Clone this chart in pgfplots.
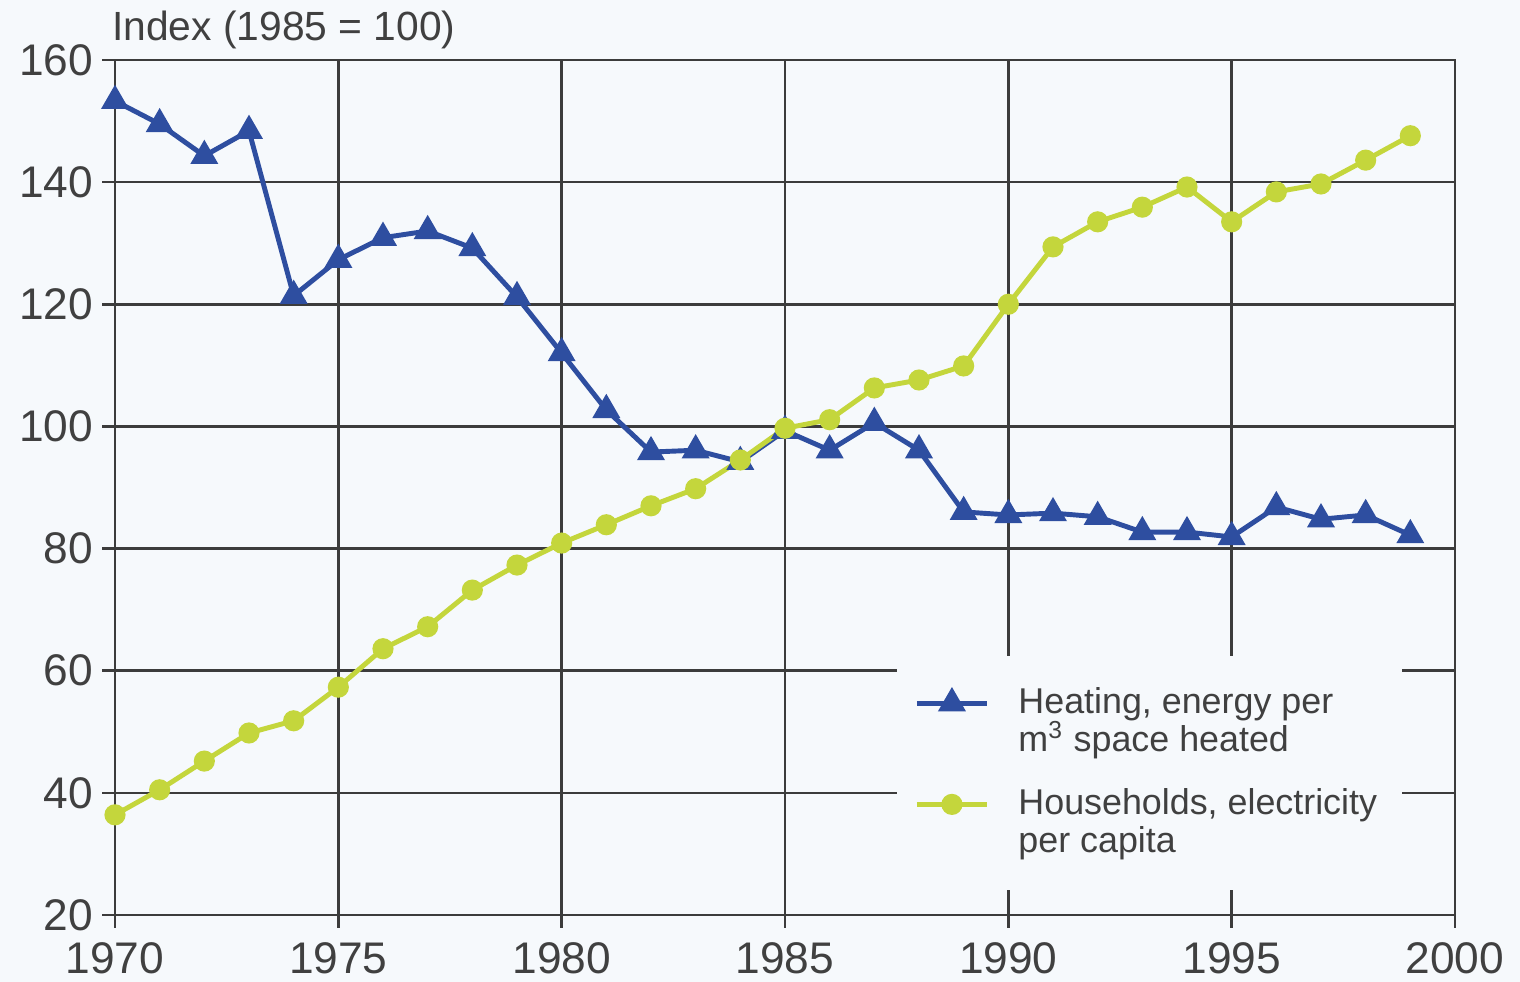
\documentclass[border=0pt]{standalone}
\usepackage{pgfplots}
\pgfplotsset{compat=1.18}
\usepackage{fontspec}
\setmainfont{Liberation Sans}
\usetikzlibrary{backgrounds}
\definecolor{heatblue}{RGB}{46,78,160}
\definecolor{elecgreen}{RGB}{196,214,60}
\definecolor{gridgray}{RGB}{60,60,60}
\definecolor{txtgray}{RGB}{64,64,64}
\definecolor{bgcol}{RGB}{246,249,252}
\begin{document}
\begin{tikzpicture}[show background rectangle,
  background rectangle/.style={fill=bgcol,draw=none}, inner frame sep=0pt]
\begin{axis}[
  name=ax,
  scale only axis,
  width=13.4cm, height=8.55cm,
  xmin=1970, xmax=2000, ymin=20, ymax=160,
  xtick={1970,1975,...,2000},
  ytick={20,40,...,160},
  grid=major,
  grid style={gridgray, line width=0.7pt},
  axis line style={gridgray, line width=0.7pt},
  tick style={gridgray, line width=0.7pt},
  tick align=outside,
  major tick length=0.13cm,
  xtick pos=bottom, ytick pos=left,
  /pgf/number format/assume math mode=true,
  /pgf/number format/1000 sep={},
  tick label style={font=\fontsize{12.6}{13}\selectfont, text=txtgray},
  yticklabel style={xshift=1pt},
  xticklabel style={yshift=-0.5pt},
  legend style={at={(0.583,0.304)}, anchor=north west, draw=none,
    fill=bgcol, font=\fontsize{10.2}{10.9}\selectfont, text=txtgray,
    cells={align=left, anchor=west}, row sep=5pt, inner xsep=5pt, inner ysep=7pt,
    /tikz/every odd column/.append style={column sep=0.22cm}},
  legend image code/.code={
    \draw[mark repeat=2,mark phase=2,yshift=5.4pt,#1] plot coordinates {(0cm,0cm)(0.35cm,0cm)(0.7cm,0cm)};},
]
\addplot[heatblue, line width=1.4pt, mark=triangle*, mark size=3.2pt] coordinates {
(1970,153.3)(1971,149.5)(1972,144.3)(1973,148.4)(1974,121.4)(1975,127.3)
(1976,130.9)(1977,132.0)(1978,129.2)(1979,121.2)(1980,112.0)(1981,102.7)
(1982,95.8)(1983,96.1)(1984,94.2)(1985,99.3)(1986,96.1)(1987,100.6)
(1988,96.1)(1989,86.0)(1990,85.5)(1991,85.8)(1992,85.2)(1993,82.7)
(1994,82.7)(1995,81.9)(1996,86.8)(1997,84.8)(1998,85.5)(1999,82.2)};
\addlegendentry{Heating, energy per\\m\textsuperscript{\scriptsize 3} space heated}
\addplot[elecgreen, line width=1.4pt, mark=*, mark size=2.3pt] coordinates {
(1970,36.4)(1971,40.5)(1972,45.2)(1973,49.8)(1974,51.8)(1975,57.3)
(1976,63.6)(1977,67.2)(1978,73.2)(1979,77.3)(1980,80.9)(1981,83.9)
(1982,87.0)(1983,89.8)(1984,94.5)(1985,99.7)(1986,101.1)(1987,106.3)
(1988,107.6)(1989,109.9)(1990,120.0)(1991,129.4)(1992,133.5)(1993,135.9)
(1994,139.2)(1995,133.5)(1996,138.4)(1997,139.7)(1998,143.6)(1999,147.6)};
\addlegendentry{Households, electricity\\per capita}
\end{axis}
\node[anchor=south west, font=\fontsize{11.6}{12}\selectfont, text=txtgray, inner sep=0pt]
  at ([xshift=-1pt,yshift=3pt]ax.north west) {Index (1985 = 100)};
\pgfresetboundingbox
\path ([shift={(-1.15cm,-0.67cm)}]ax.south west) rectangle ([shift={(0.65cm,0.6cm)}]ax.north east);
\end{tikzpicture}
\end{document}
